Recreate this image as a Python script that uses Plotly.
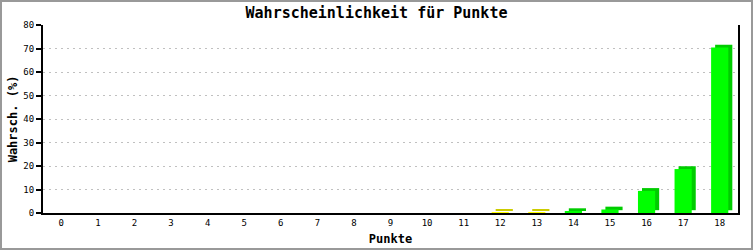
import plotly.graph_objects as go

points = list(range(19))
probs = [0]*12 + [0.3, 0.3, 0.8, 1.5, 9.4, 18.7, 70.4]
tick_labels = [str(p) for p in points]

front_cols = ["#FFFF00" if p < 14 else "#00FF00" for p in points]
side_cols = ["#CCCC00" if p < 14 else "#00CC00" for p in points]

DX = 0.11   # 3d depth in x (category units)
DY = 1.2    # 3d depth in y (value units)
W = 0.47

fig = go.Figure()
fig.add_trace(go.Bar(
    x=[p + DX for p in points], y=probs,
    base=[DY if v > 0 else 0 for v in probs],
    width=W, marker=dict(color=side_cols, line=dict(width=0)),
    hoverinfo="skip", showlegend=False))
fig.add_trace(go.Bar(
    x=points, y=probs, width=W,
    marker=dict(color=front_cols, line=dict(width=0)),
    showlegend=False))

mono = "DejaVu Sans Mono"
fig.update_layout(
    width=753, height=250,
    margin=dict(l=43, r=15, t=25, b=37, autoexpand=False),
    paper_bgcolor="white", plot_bgcolor="white",
    barmode="overlay",
    title=dict(text="<b>Wahrscheinlichkeit für Punkte</b>", x=0.5, xanchor="center",
               y=1 - 13/250, yanchor="middle",
               font=dict(family=mono, size=15, color="black")),
    xaxis=dict(
        range=[-0.5, 18.5], tickmode="array", tickvals=points, ticktext=tick_labels,
        showgrid=False, zeroline=False, showline=True, linecolor="black", linewidth=2,
        ticks="", automargin=False, tickfont=dict(family=mono, size=9, color="black"),
        title=dict(text="<b>Punkte</b>", font=dict(family=mono, size=12, color="black"),
                   standoff=8)),
    yaxis=dict(
        range=[0, 80], dtick=10, showgrid=True, gridcolor="#c0c0c0", griddash="2px,4px",
        gridwidth=1, zeroline=False, showline=True, linecolor="black", linewidth=2,
        mirror=True, ticks="outside", ticklen=5, tickwidth=2, tickcolor="black",
        automargin=False, tickfont=dict(family=mono, size=9, color="black"),
        title=dict(text="<b>Wahrsch. (%)</b>", font=dict(family=mono, size=12, color="black"),
                   standoff=3)),
)
# outer grey border
fig.add_shape(type="rect", xref="paper", yref="paper",
              x0=-42/695, x1=1 + 14/695, y0=-36/188, y1=1 + 24/188,
              line=dict(color="#999999", width=2), layer="above")

fig.write_html("out.html")
